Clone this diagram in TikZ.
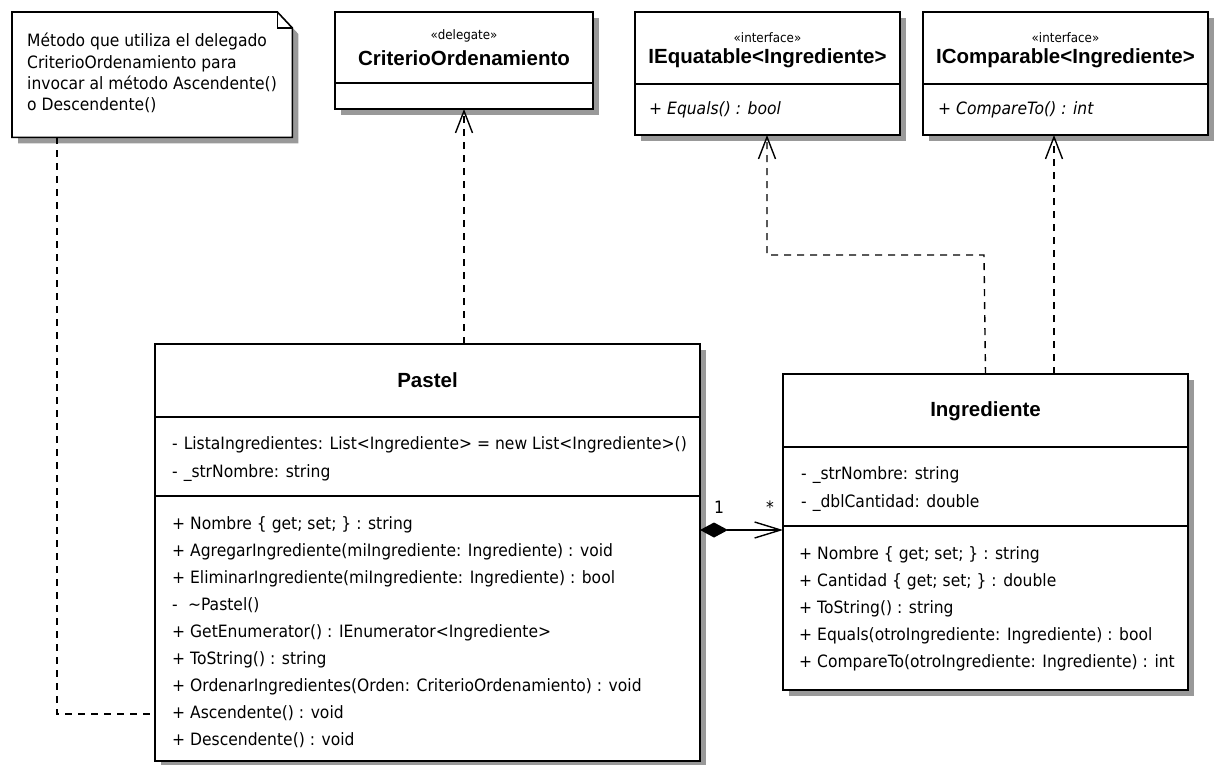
\documentclass[tikz,border=0pt]{standalone}
\usepackage{fontspec}
\setmainfont{DejaVu Sans}[FakeStretch=0.915]
\newfontfamily\titlefont{Liberation Sans}
\usetikzlibrary{arrows.meta,shadows}
\definecolor{shadowc}{gray}{0.6}
\tikzset{
  umlshadow/.style={drop shadow={shadow xshift=6pt,shadow yshift=-6pt,fill=shadowc,opacity=1}},
  box/.style={draw=black,line width=1.6pt,fill=white,anchor=north west,inner sep=0pt,outer sep=0pt,umlshadow},
  divider/.style={line width=1.3pt},
  body/.style={anchor=west,inner sep=0pt,text height=12.5pt,text depth=3.5pt,font=\fontsize{17}{20}\selectfont},
  bodyit/.style={body,font=\fontsize{17}{20}\selectfont\itshape},
  title/.style={anchor=center,inner sep=0pt,font=\titlefont\bfseries\fontsize{20.5}{24}\selectfont},
  stereo/.style={anchor=center,inner sep=0pt,font=\fontsize{13}{15}\selectfont},
  dep/.style={line width=1.4pt,dash pattern=on 7pt off 6pt,-{Straight Barb[length=22pt,width=17pt,line width=1.4pt]}},
  notelink/.style={line width=1.4pt,dash pattern=on 7pt off 6pt},
  compo/.style={line width=1.4pt,{Diamond[length=28pt,width=15pt,fill=black]}-{Straight Barb[length=26pt,width=16pt,line width=1.4pt]}},
  mult/.style={inner sep=0pt,font=\fontsize{17}{20}\selectfont}
}
\begin{document}
\begin{tikzpicture}[x=1pt,y=-1pt]
\useasboundingbox (0,0) rectangle (1222,764);

% ---------- note ----------
\node[anchor=north west,inner sep=0pt,minimum width=280pt,minimum height=125pt] (note) at (12,12) {};
\filldraw[fill=white,draw=black,line width=1.6pt,umlshadow]
  (note.north west) -- ([xshift=-15pt]note.north east) -- ([yshift=-16pt]note.north east)
  -- (note.south east) -- (note.south west) -- cycle;
\draw[line width=1.3pt] ([xshift=-15pt]note.north east) -- ([xshift=-15pt,yshift=-16pt]note.north east) -- ([yshift=-16pt]note.north east);
\node[anchor=north west,inner sep=0pt,align=left,font=\fontsize{17}{21.3}\selectfont] (notetext) at (27,33)
  {Método que utiliza el delegado\\CriterioOrdenamiento para\\invocar al método Ascendente()\\o Descendente()};

% ---------- CriterioOrdenamiento ----------
\node[box,minimum width=258pt,minimum height=97pt] (crit) at (335,12) {};
\draw[divider] (335,83) -- (593,83);
\node[stereo] (critst) at (464,36) {«delegate»};
\node[title] (critname) at (464,58) {CriterioOrdenamiento};

% ---------- IEquatable ----------
\node[box,minimum width=265pt,minimum height=123pt] (ieq) at (635,12) {};
\draw[divider] (635,84) -- (900,84);
\node[stereo] (ieqst) at (767.5,38) {«interface»};
\node[title] (ieqname) at (767.5,58) {IEquatable<Ingrediente>};
\node[bodyit] (ieqm) at (649,110) {+ Equals() : bool};

% ---------- IComparable ----------
\node[box,minimum width=285pt,minimum height=123pt] (icmp) at (923,12) {};
\draw[divider] (923,84) -- (1208,84);
\node[stereo] (icmpst) at (1065.5,38) {«interface»};
\node[title] (icmpname) at (1065.5,58) {IComparable<Ingrediente>};
\node[bodyit] (icmpm) at (938,110) {+ CompareTo() : int};

% ---------- Pastel ----------
\node[box,minimum width=545pt,minimum height=417pt] (pastel) at (155,344) {};
\draw[divider] (155,417) -- (700,417);
\draw[divider] (155,496) -- (700,496);
\node[title] (pastelname) at (427.5,380) {Pastel};
\node[body] (pa1) at (172,445) {-\hspace{0.35em}ListaIngredientes: List<Ingrediente> = new List<Ingrediente>()};
\node[body] (pa2) at (172,473) {-\hspace{0.35em}\_strNombre: string};
\node[body] (pm1) at (172,525) {+ Nombre \{ get; set; \} : string};
\node[body] (pm2) at (172,552) {+ AgregarIngrediente(miIngrediente: Ingrediente) : void};
\node[body] (pm3) at (172,579) {+ EliminarIngrediente(miIngrediente: Ingrediente) : bool};
\node[body] (pm4) at (172,606) {-\hspace{0.6em}\textasciitilde Pastel()};
\node[body] (pm5) at (172,633) {+ GetEnumerator() : IEnumerator<Ingrediente>};
\node[body] (pm6) at (172,660) {+ ToString() : string};
\node[body] (pm7) at (172,687) {+ OrdenarIngredientes(Orden: CriterioOrdenamiento) : void};
\node[body] (asc) at (172,714) {+ Ascendente() : void};
\node[body] (pm9) at (172,741) {+ Descendente() : void};

% ---------- Ingrediente ----------
\node[box,minimum width=405pt,minimum height=316pt] (ingr) at (783,374) {};
\draw[divider] (783,447) -- (1188,447);
\draw[divider] (783,526) -- (1188,526);
\node[title] (ingrname) at (985.5,411) {Ingrediente};
\node[body] (ia1) at (801,475) {-\hspace{0.35em}\_strNombre: string};
\node[body] (ia2) at (801,503) {-\hspace{0.35em}\_dblCantidad: double};
\node[body] (im1) at (799,555) {+ Nombre \{ get; set; \} : string};
\node[body] (im2) at (799,582) {+ Cantidad \{ get; set; \} : double};
\node[body] (im3) at (799,609) {+ ToString() : string};
\node[body] (im4) at (799,636) {+ Equals(otroIngrediente: Ingrediente) : bool};
\node[body] (im5) at (799,663) {+ CompareTo(otroIngrediente: Ingrediente) : int};

% ---------- connectors ----------
\coordinate (bend1) at (984,255);
\coordinate (bend2) at (767,255);
\draw[notelink] ([xshift=45pt]note.south west) |- (pastel.west |- asc.west);
\draw[dep] (pastel.north -| crit.south) -- (crit.south);
\draw[dep] (ingr.north) -- (bend1) -- (bend2) -- (bend2 |- ieq.south);
\draw[dep] (1054,374) coordinate (icf) -- (icf |- icmp.south);
\draw[compo] (pastel.east |- 0,530) -- (ingr.west |- 0,530);
\node[mult] (m1) at (719,507) {1};
\node[mult] (m2) at (770,507) {*};
\end{tikzpicture}
\end{document}
